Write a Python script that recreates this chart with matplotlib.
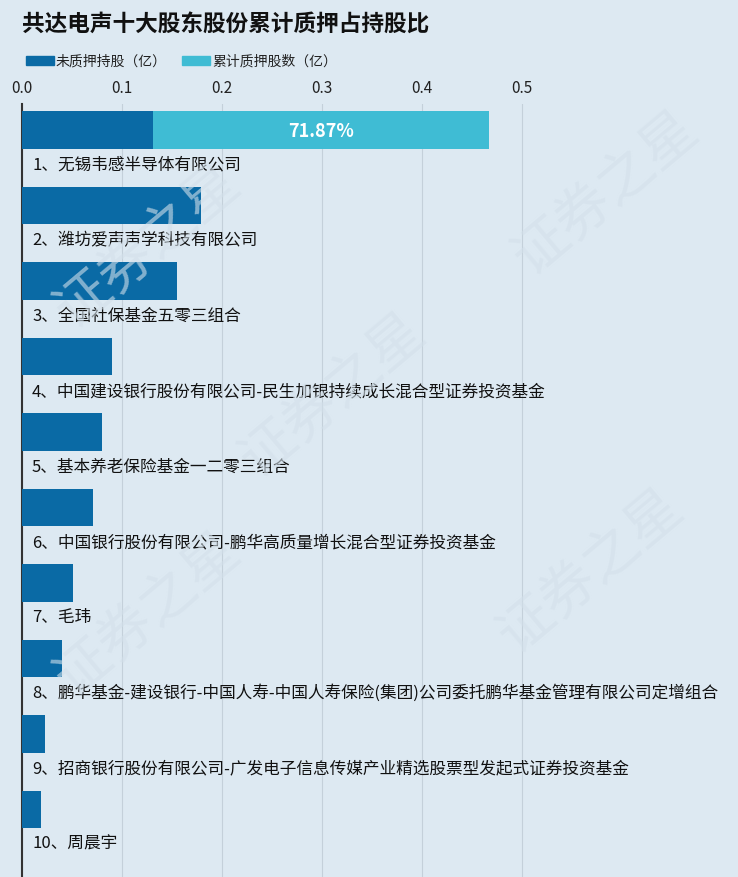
import matplotlib
matplotlib.use("Agg")
import matplotlib.pyplot as plt
from matplotlib.patches import Rectangle

plt.rcParams["font.sans-serif"] = ["Noto Sans CJK SC", "DejaVu Sans"]
plt.rcParams["axes.unicode_minus"] = False

# ── 資料 ─────────────────────────────
names = [
    "1、无锡韦感半导体有限公司",
    "2、潍坊爱声声学科技有限公司",
    "3、全国社保基金五零三组合",
    "4、中国建设银行股份有限公司-民生加银持续成长混合型证券投资基金",
    "5、基本养老保险基金一二零三组合",
    "6、中国银行股份有限公司-鹏华高质量增长混合型证券投资基金",
    "7、毛玮",
    "8、鹏华基金-建设银行-中国人寿-中国人寿保险(集团)公司委托鹏华基金管理有限公司定增组合",
    "9、招商银行股份有限公司-广发电子信息传媒产业精选股票型发起式证券投资基金",
    "10、周晨宇",
]
unpledged = [0.131, 0.179, 0.155, 0.090, 0.080, 0.071, 0.051, 0.040, 0.023, 0.019]
pledged = [0.336, 0, 0, 0, 0, 0, 0, 0, 0, 0]
pct_labels = ["71.87%", "", "", "", "", "", "", "", "", ""]
ticks = [0.0, 0.1, 0.2, 0.3, 0.4, 0.5]

BG = "#dde9f2"
C1 = "#0a6aa5"
C2 = "#3fbcd4"

W, H = 738, 878
fig = plt.figure(figsize=(W / 100, H / 100), dpi=100, facecolor=BG)

# 水印 (淡)
for (x, y) in [(0.45, 0.55), (0.82, 0.78), (0.2, 0.72), (0.8, 0.35), (0.2, 0.3)]:
    fig.text(x, y, "证券之星", fontsize=40, color="#d3e0ea", alpha=0.6,
             rotation=40, ha="center", va="center", zorder=0)

top_px = 105
ax = fig.add_axes([22 / W, 0, 1 - 22 / W, 1 - top_px / H])
ax.set_facecolor("none")
span = (H - top_px) / 75.5
y0 = -(131 - top_px) / 75.5
ax.set_ylim(y0 + span, y0)
ax.set_xlim(0, (W - 22) / 1000)

ys = list(range(len(names)))
ax.barh(ys, unpledged, height=0.5, color=C1, zorder=3)
ax.barh(ys, pledged, left=unpledged, height=0.5, color=C2, zorder=3)
for i in ys:
    ax.text(0.01, i + 0.45, names[i], fontsize=12, va="center", ha="left", color="#111111", zorder=4)
    if pct_labels[i]:
        ax.text(unpledged[i] + pledged[i] / 2, i, pct_labels[i], fontsize=13,
                fontweight="bold", color="white", ha="center", va="center", zorder=4)

ax.set_xticks(ticks)
ax.set_xticklabels([f"{t:.1f}" for t in ticks], fontsize=11, color="#222222")
ax.xaxis.tick_top()
ax.tick_params(axis="x", length=0, pad=6)
ax.set_yticks([])
ax.grid(axis="x", color="#c4d0da", linewidth=0.8, zorder=1)
for s in ["top", "right", "bottom"]:
    ax.spines[s].set_visible(False)
ax.spines["left"].set_color("#333333")
ax.spines["left"].set_linewidth(1.5)

fig.text(22 / W, 1 - 24 / H, "共达电声十大股东股份累计质押占持股比", fontsize=16.3,
         fontweight="bold", va="center", ha="left", color="#111111")

# 圖例
for x, c, lab in [(26, C1, "未质押持股（亿）"), (182, C2, "累计质押股数（亿）")]:
    fig.patches.append(Rectangle((x / W, 1 - 66 / H), 28 / W, 9 / H,
                                 transform=fig.transFigure, color=c))
    fig.text((x + 30) / W, 1 - 61.5 / H, lab, fontsize=10, va="center", ha="left", color="#222222")

fig.savefig("out.png", dpi=100, facecolor=BG)
